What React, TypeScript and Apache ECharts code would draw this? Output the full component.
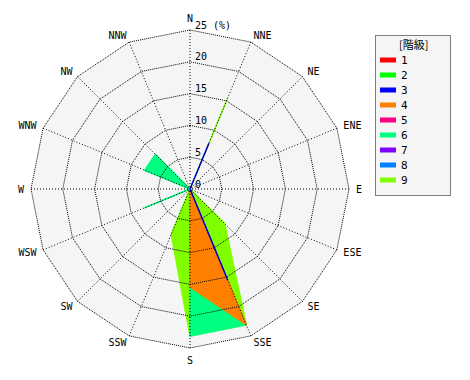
import React, { useEffect, useRef } from 'react';
import * as echarts from 'echarts';

// compass order, clockwise from north
const directions = ['N', 'NNE', 'NE', 'ENE', 'E', 'ESE', 'SE', 'SSE', 'S', 'SSW', 'SW', 'WSW', 'W', 'WNW', 'NW', 'NNW'];
const classNames = ['1', '2', '3', '4', '5', '6', '7', '8', '9'];
const classColors = ['#ff0000', '#00ff00', '#0000ff', '#ff8000', '#ff0080', '#00ff80', '#8000ff', '#0080ff', '#80ff00'];

// frequency (%) per direction, same order as `directions`
const class1 = [0, 0, 0, 0, 0, 0, 0, 0, 0, 0, 0, 0, 0, 0, 0, 0];
const class2 = [0, 0, 0, 0, 0, 0, 0, 0, 0, 0, 0, 0, 0, 0, 0, 0];
const class3 = [0, 7.7, 0, 0, 0, 0, 0, 15.4, 0, 0, 0, 0, 0, 0, 0, 0];
const class4 = [0, 0, 0, 0, 0, 0, 0, 23.1, 15.4, 0, 0, 0, 0, 0, 0, 0];
const class5 = [0, 0, 0, 0, 0, 0, 0, 0, 0, 0, 0, 0, 0, 0, 0, 0];
const class6 = [0, 0, 0, 0, 0, 0, 0, 23.1, 23.1, 0, 0, 7.7, 0, 7.7, 7.7, 0];
const class7 = [0, 0, 0, 0, 0, 0, 0, 0, 0, 0, 0, 0, 0, 0, 0, 0];
const class8 = [0, 0, 0, 0, 0, 0, 0, 0, 0, 0, 0, 0, 0, 0, 0, 0];
const class9 = [0, 15.4, 0, 0, 0, 0, 7.7, 23.1, 23.1, 7.7, 0, 0, 0, 0, 0, 0];

const classValues = [class1, class2, class3, class4, class5, class6, class7, class8, class9];

const radialMax = 25;
const radialInterval = 5;
const legendTitle = '[階級]';

const MONO = '"DejaVu Sans Mono", monospace';

// ECharts radar places indicators counter-clockwise; reorder so they run clockwise.
const toRadarOrder = (arr: any[]) => arr.map((_, k) => arr[(arr.length - k) % arr.length]);

export default function App() {
  const ref = useRef<HTMLDivElement>(null);

  useEffect(() => {
    if (!ref.current) return;
    const chart = echarts.init(ref.current, undefined, { renderer: 'svg' });

    const indicatorNames = toRadarOrder(directions);
    const indicator = indicatorNames.map((n) => ({ name: n, min: 0, max: radialMax }));

    const series: any[] = [];
    const palette: string[] = [];
    for (let i = classNames.length - 1; i >= 0; i--) {
      const color = classColors[i];
      palette.push(color);
      series.push({
        type: 'radar',
        radarIndex: 0,
        name: classNames[i],
        symbol: 'none',
        silent: true,
        z: 2,
        color,
        itemStyle: { color },
        lineStyle: { color, width: 1.5 },
        areaStyle: { color, opacity: 1 },
        data: [
          {
            name: classNames[i],
            value: toRadarOrder(classValues[i]),
          },
        ],
      });
    }

    const radarBase = {
      center: [190, 189],
      radius: 159,
      startAngle: 90,
      shape: 'polygon',
      splitNumber: radialMax / radialInterval,
      nameGap: 7,
      indicator,
      axisLine: { show: false },
      axisTick: { show: false },
      axisLabel: { show: false },
    };

    chart.setOption({
      animation: false,
      backgroundColor: '#ffffff',
      color: palette,
      title: {
        text: legendTitle,
        left: 399,
        top: 38,
        padding: 0,
        textStyle: { fontSize: 11, fontWeight: 'normal', color: '#000', fontFamily: '"Noto Sans CJK JP", sans-serif' },
      },
      graphic: [
        {
          type: 'rect',
          silent: true,
          z: 0,
          shape: { x: 375.5, y: 35.5, width: 75, height: 160 },
          style: { fill: '#f5f5f5', stroke: '#000', lineWidth: 1, lineDash: [1, 1] },
        },
      ],
      legend: {
        data: classNames,
        orient: 'vertical',
        left: 380,
        top: 54,
        padding: 0,
        itemWidth: 16,
        itemHeight: 5,
        itemGap: 3,
        icon: 'rect',
        selectedMode: false,
        textStyle: { fontSize: 11, lineHeight: 12, color: '#000', fontFamily: MONO },
      },
      radar: [
        {
          ...radarBase,
          z: 0,
          axisName: { show: false },
          splitLine: { show: false },
          splitArea: { show: true, areaStyle: { color: ['#f5f5f5'] } },
        },
        {
          ...radarBase,
          z: 5,
          axisName: { color: '#000', fontSize: 10, fontFamily: MONO },
          splitLine: { lineStyle: { color: '#000', type: 'dotted', width: 1 } },
          splitArea: { show: false },
        },
      ],
      polar: { center: [190, 189], radius: 159 },
      angleAxis: {
        type: 'value',
        startAngle: 90,
        min: 0,
        max: 360,
        interval: 22.5,
        z: 5,
        axisLine: { show: false },
        axisTick: { show: false },
        axisLabel: { show: false },
        splitLine: { show: true, lineStyle: { color: '#000', type: [1, 2], width: 1 } },
      },
      radiusAxis: {
        type: 'value',
        min: 0,
        max: radialMax,
        interval: radialInterval,
        z: 20,
        axisLine: { show: false },
        axisTick: { show: false },
        splitLine: { show: false },
        axisLabel: {
          show: true,
          margin: -5,
          align: 'left',
          verticalAlign: 'bottom',
          fontSize: 10,
          color: '#000',
          fontFamily: MONO,
          formatter: (v: number) => (v === radialMax ? `${v} (%)` : `${v}`),
        },
      },
      series,
    });

    return () => chart.dispose();
  }, []);

  return <div ref={ref} style={{ position: 'fixed', left: 0, top: 0, width: 470, height: 380 }} />;
}
